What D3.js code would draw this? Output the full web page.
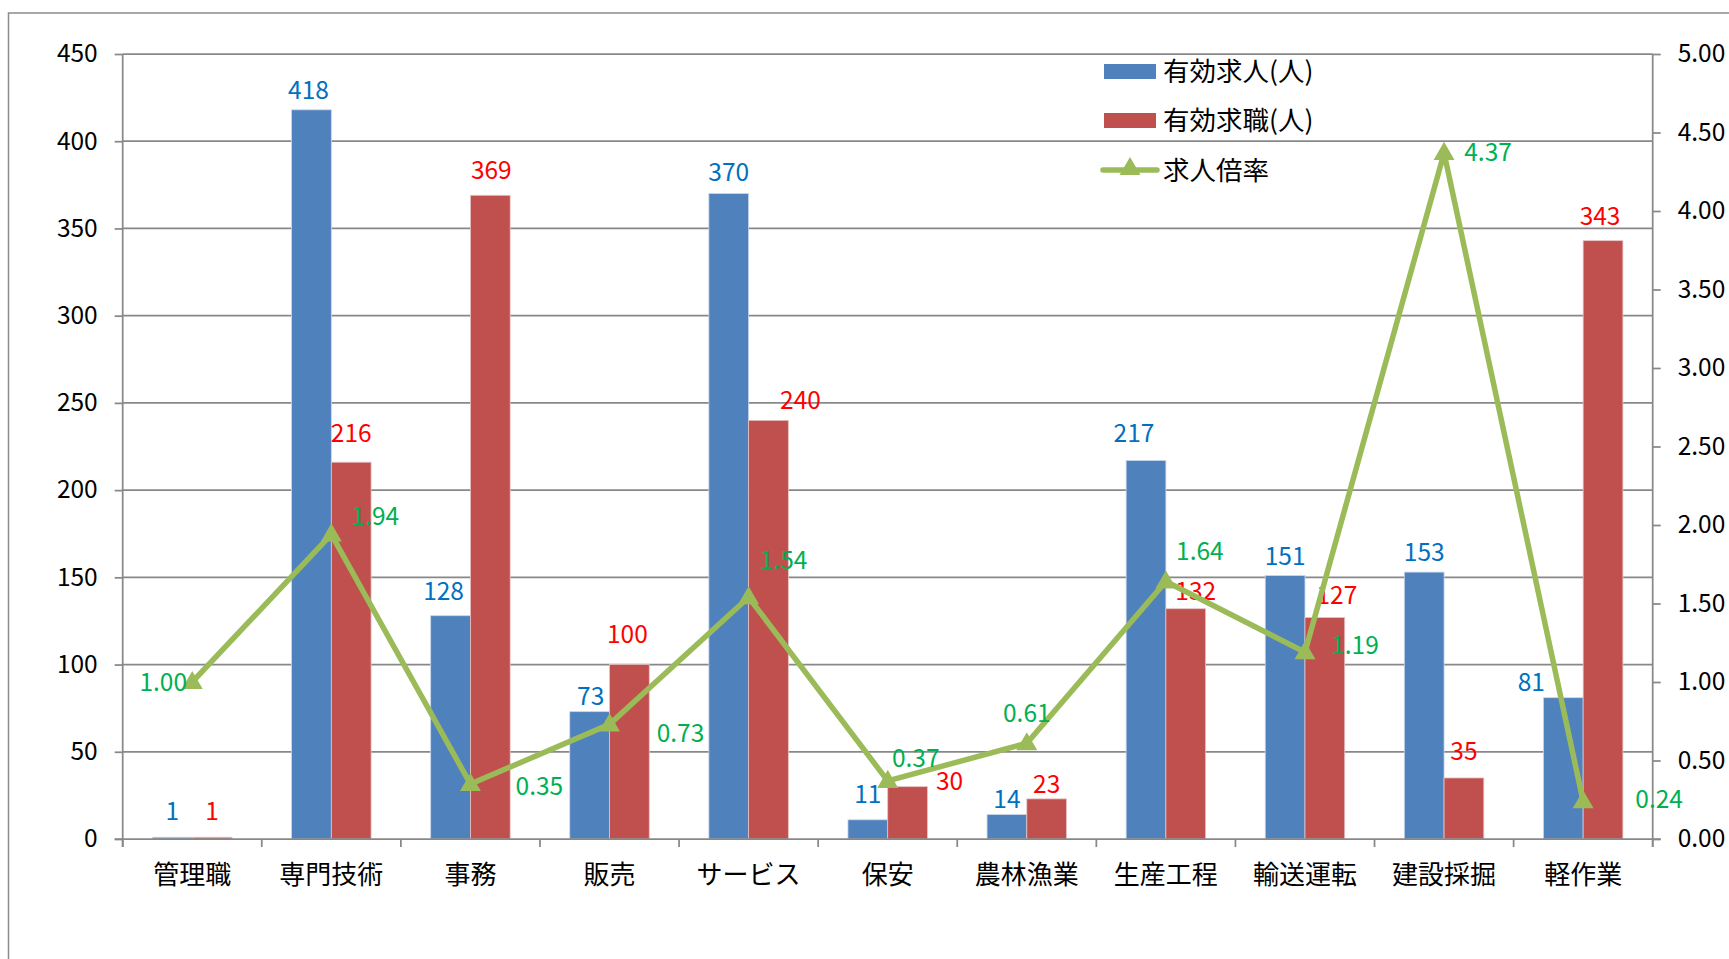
<!DOCTYPE html>
<html>
<head>
<meta charset="utf-8">
<script src="https://cdn.jsdelivr.net/npm/d3@7"></script>
<style>
html,body{margin:0;padding:0;background:#fff;}
svg{display:block;}
text{font-family:"Noto Sans CJK JP","Noto Sans",sans-serif;}
</style>
</head>
<body>
<svg id="chart" width="1729" height="959"></svg>
<script>
// ---- data ----
const categories = ["管理職","専門技術","事務","販売","サービス","保安","農林漁業","生産工程","輸送運転","建設採掘","軽作業"];
const openings = [1,418,128,73,370,11,14,217,151,153,81];      // 有効求人(人)
const seekers  = [1,216,369,100,240,30,23,132,127,35,343];     // 有効求職(人)
const ratio    = [1.00,1.94,0.35,0.73,1.54,0.37,0.61,1.64,1.19,4.37,0.24]; // 求人倍率
const leftTicks  = [0,50,100,150,200,250,300,350,400,450];
const rightTicks = [0,0.5,1,1.5,2,2.5,3,3.5,4,4.5,5];
const seriesNames = ["有効求人(人)","有効求職(人)","求人倍率"];

// label nudges (px, relative to default label anchor)
const openLabelNudge = [[0,-26],[-3,-20],[-7,-25],[1,-15],[0,-21],[0,-26],[0,-15],[-12,-27],[0,-19],[0,-20],[-32,-16]];
const seekLabelNudge = [[0,-26],[0,-29],[1,-25],[-2,-30],[32,-20],[42,-5],[0,-15],[10,-18],[12,-22],[0,-27],[-3,-24]];
const ratioLabelNudge = [[-29,0],[44,-18],[69,2],[71,9],[35,-37],[28,-23],[0,-30],[34,-30],[50,-7],[44,-1],[76,-2]];

// ---- layout ----
const L = 122.7, R = 1652.7, T = 54, B = 839;
const svg = d3.select("#chart");
const gridColor = "#888888";
const blue = "#4F81BD", red = "#C0504D", green = "#9BBB59";
const numFont = 24.5;

// outer frame
svg.append("rect").attr("x",8.5).attr("y",13).attr("width",1800).attr("height",1000)
  .attr("fill","none").attr("stroke","#8c8c8c").attr("stroke-width",1.5);

const x = d3.scaleBand().domain(categories).range([L,R]).paddingInner(0).paddingOuter(0);
const x1 = d3.scaleBand().domain(["o","s"]).range([0,x.bandwidth()]).paddingInner(0).paddingOuter(0.75);
const y = d3.scaleLinear().domain([0,450]).range([B,T]);
const y2 = d3.scaleLinear().domain([0,5]).range([B,T]);

// gridlines
svg.append("g").selectAll("line").data(leftTicks.filter(d=>d>0)).join("line")
  .attr("x1",L).attr("x2",R).attr("y1",d=>y(d)).attr("y2",d=>y(d))
  .attr("stroke",gridColor).attr("stroke-width",1.75);

// left axis
const gl = svg.append("g").attr("transform",`translate(${L},0)`)
  .call(d3.axisLeft(y).tickValues(leftTicks).tickSize(8).tickPadding(17).tickFormat(d3.format("d")));
gl.select(".domain").remove();
gl.selectAll(".tick line").attr("stroke",gridColor).attr("stroke-width",1.75);
gl.selectAll(".tick text").attr("font-size",numFont).attr("fill","#000").attr("font-family",'"Noto Sans CJK JP"');
svg.append("line").attr("x1",L).attr("x2",L).attr("y1",T).attr("y2",B+8).attr("stroke",gridColor).attr("stroke-width",1.75);

// right axis
const gr = svg.append("g").attr("transform",`translate(${R},0)`)
  .call(d3.axisRight(y2).tickValues(rightTicks).tickSize(8).tickPadding(17).tickFormat(d3.format(".2f")));
gr.select(".domain").remove();
gr.selectAll(".tick line").attr("stroke",gridColor).attr("stroke-width",1.75);
gr.selectAll(".tick text").attr("font-size",numFont).attr("fill","#000").attr("font-family",'"Noto Sans CJK JP"');
svg.append("line").attr("x1",R).attr("x2",R).attr("y1",T).attr("y2",B+8).attr("stroke",gridColor).attr("stroke-width",1.75);

// bars
const gb = svg.append("g");
categories.forEach((c,i)=>{
  gb.append("rect").attr("x",x(c)+x1("o")).attr("width",x1.bandwidth())
    .attr("y",y(openings[i])).attr("height",y(0)-y(openings[i]))
    .attr("fill",blue).attr("stroke","#c8d6ea").attr("stroke-width",0.8);
  gb.append("rect").attr("x",x(c)+x1("s")).attr("width",x1.bandwidth())
    .attr("y",y(seekers[i])).attr("height",y(0)-y(seekers[i]))
    .attr("fill",red).attr("stroke","#e6c4c3").attr("stroke-width",0.8);
});

// x axis
svg.append("line").attr("x1",L-8).attr("x2",R+8).attr("y1",B).attr("y2",B).attr("stroke",gridColor).attr("stroke-width",1.75);
const bounds = categories.map(c=>x(c)).concat([R]);
svg.append("g").selectAll("line").data(bounds).join("line")
  .attr("x1",d=>d).attr("x2",d=>d).attr("y1",B).attr("y2",B+8).attr("stroke",gridColor).attr("stroke-width",1.75);
svg.append("g").selectAll("text").data(categories).join("text")
  .attr("x",d=>x(d)+x.bandwidth()/2).attr("y",875).attr("dy","0.36em")
  .attr("text-anchor","middle").attr("font-size",26).attr("fill","#000").text(d=>d);

// bar labels
const gt = svg.append("g").attr("font-size",numFont).attr("text-anchor","middle");
categories.forEach((c,i)=>{
  gt.append("text").attr("x",x(c)+x1("o")+x1.bandwidth()/2+openLabelNudge[i][0])
    .attr("y",y(openings[i])+openLabelNudge[i][1]).attr("dy","0.36em").attr("fill","#0070C0").text(openings[i]);
  gt.append("text").attr("x",x(c)+x1("s")+x1.bandwidth()/2+seekLabelNudge[i][0])
    .attr("y",y(seekers[i])+seekLabelNudge[i][1]).attr("dy","0.36em").attr("fill","#FF0000").text(seekers[i]);
});

// line
const cx = c=>x(c)+x.bandwidth()/2;
const line = d3.line().x((d,i)=>cx(categories[i])).y(d=>y2(d));
svg.append("path").datum(ratio).attr("d",line).attr("fill","none")
  .attr("stroke",green).attr("stroke-width",5.5).attr("stroke-linejoin","miter");
const tri = d3.symbol().type(d3.symbolTriangle).size(190);
svg.append("g").selectAll("path").data(ratio).join("path")
  .attr("d",tri).attr("transform",(d,i)=>`translate(${cx(categories[i])},${y2(d)+1})`).attr("fill",green);

svg.append("g").attr("font-size",numFont).attr("text-anchor","middle").attr("fill","#00B050")
  .selectAll("text").data(ratio).join("text")
  .attr("x",(d,i)=>cx(categories[i])+ratioLabelNudge[i][0])
  .attr("y",(d,i)=>y2(d)+ratioLabelNudge[i][1]).attr("dy","0.36em")
  .text(d=>d3.format(".2f")(d));

// legend
const lg = svg.append("g");
lg.append("rect").attr("x",1104).attr("y",64).attr("width",52).attr("height",15).attr("fill",blue);
lg.append("rect").attr("x",1104).attr("y",113).attr("width",52).attr("height",15).attr("fill",red);
lg.append("line").attr("x1",1103).attr("x2",1157).attr("y1",170).attr("y2",170).attr("stroke",green).attr("stroke-width",5.5).attr("stroke-linecap","round");
lg.append("path").attr("d",tri).attr("transform","translate(1130,169)").attr("fill",green);
[71.5,120.5,170].forEach((yy,i)=>{
  lg.append("text").attr("x",1163).attr("y",yy).attr("dy","0.36em").attr("font-size",26.5).attr("fill","#000").text(seriesNames[i]);
});
</script>
</body>
</html>
